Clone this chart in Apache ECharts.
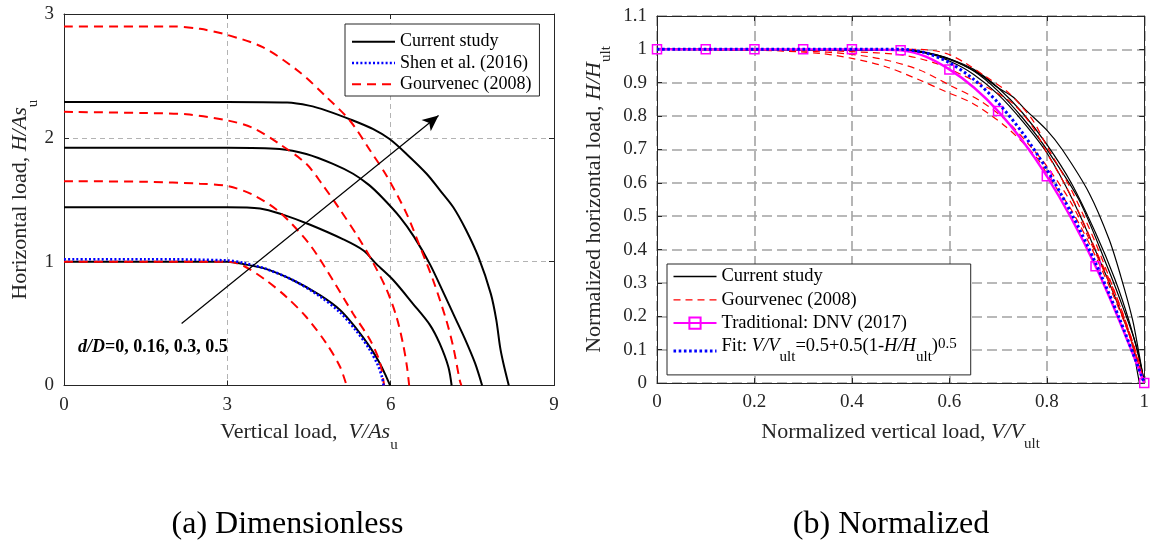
<!DOCTYPE html>
<html><head><meta charset="utf-8">
<script src="https://cdn.jsdelivr.net/npm/echarts@6/dist/echarts.min.js"></script>
<style>html,body{margin:0;padding:0;background:#fff}#c{width:1152px;height:542px}</style>
</head><body><div id="c"></div>
<script>
// ===== Panel (a) Dimensionless: points are [V/As_u, H/As_u] =====
const curA_d000 = [[0,1.0],[1.5,1.0],[3.0,1.0],[3.3,0.98],[3.72,0.94],[4.21,0.85],[4.70,0.73],[5.07,0.61],[5.37,0.46],[5.62,0.31],[5.80,0.18],[5.92,0.07],[5.99,0]];
const curA_d016 = [[0,1.44],[1.5,1.44],[3.0,1.44],[3.6,1.43],[4.02,1.38],[4.51,1.30],[5.13,1.18],[5.50,1.09],[5.74,0.98],[6.05,0.85],[6.41,0.66],[6.72,0.49],[6.90,0.34],[7.06,0.15],[7.12,0]];
const curA_d030 = [[0,1.92],[1.5,1.92],[3.0,1.92],[3.96,1.91],[4.45,1.87],[4.94,1.79],[5.31,1.71],[5.60,1.62],[5.84,1.52],[6.17,1.36],[6.43,1.20],[6.72,0.98],[6.98,0.74],[7.18,0.55],[7.36,0.38],[7.55,0.18],[7.68,0]];
const curA_d050 = [[0,2.29],[1.5,2.29],[3.0,2.29],[4.1,2.285],[4.5,2.26],[4.82,2.22],[5.31,2.14],[5.68,2.07],[5.98,1.99],[6.29,1.87],[6.66,1.71],[6.90,1.58],[7.15,1.44],[7.38,1.26],[7.61,1.04],[7.84,0.74],[7.94,0.53],[8.01,0.31],[8.07,0.18],[8.17,0]];
const shenA = [[0,1.02],[1.5,1.02],[3.0,1.01],[3.3,0.99],[3.72,0.94],[4.21,0.85],[4.70,0.72],[5.07,0.59],[5.37,0.44],[5.60,0.30],[5.76,0.17],[5.84,0.07],[5.87,0]];
const gouA_1 = [[0,1.0],[1.5,1.0],[3.0,1.0],[3.29,0.968],[3.72,0.847],[4.09,0.713],[4.45,0.553],[4.82,0.339],[5.07,0.151],[5.19,0]];
const gouA_2 = [[0,1.65],[1.5,1.645],[2.49,1.63],[3.01,1.61],[3.47,1.54],[3.96,1.40],[4.51,1.14],[4.94,0.85],[5.31,0.58],[5.62,0.37],[5.80,0.19],[5.88,0]];
const gouA_3 = [[0,2.21],[1.5,2.20],[2.25,2.19],[3.01,2.14],[3.47,2.08],[3.96,1.95],[4.45,1.79],[4.75,1.62],[5.07,1.42],[5.40,1.20],[5.68,0.99],[5.93,0.77],[6.11,0.55],[6.23,0.33],[6.30,0.15],[6.34,0]];
const gouA_4 = [[0,2.90],[1.0,2.90],[2.0,2.90],[2.5,2.88],[3.01,2.83],[3.66,2.73],[4.33,2.53],[4.82,2.33],[5.25,2.14],[5.62,1.90],[5.93,1.69],[6.29,1.39],[6.54,1.12],[6.78,0.85],[7.02,0.53],[7.15,0.31],[7.27,0.04],[7.30,0]];
const arrowA = [[2.16,0.50],[6.88,2.18]];
const annotA = 'd/D=0, 0.16, 0.3, 0.5';
const xTicksA = [0,3,6,9];
const yTicksA = [0,1,2,3];

// ===== Panel (b) Normalized: points are [V/V_ult, H/H_ult] =====
const curB_1 = [[0,1],[0.5,0.998],[0.55,0.99],[0.6,0.965],[0.65,0.925],[0.7,0.865],[0.75,0.785],[0.8,0.69],[0.853,0.549],[0.914,0.349],[0.95,0.22],[0.975,0.12],[0.985,0.04],[0.99,0]];
const curB_2 = [[0,1],[0.5,0.998],[0.55,0.99],[0.6,0.97],[0.65,0.935],[0.7,0.875],[0.75,0.795],[0.8,0.70],[0.866,0.549],[0.924,0.349],[0.958,0.22],[0.982,0.12],[0.995,0.04],[1.0,0]];
const curB_3 = [[0,1],[0.5,0.998],[0.55,0.992],[0.6,0.972],[0.65,0.94],[0.7,0.885],[0.75,0.81],[0.8,0.715],[0.85,0.60],[0.9,0.45],[0.94,0.31],[0.97,0.18],[0.99,0.07],[1.0,0]];
const curB_4 = [[0,1],[0.5,0.998],[0.55,0.99],[0.6,0.972],[0.66,0.928],[0.7,0.885],[0.73,0.858],[0.757,0.818],[0.8,0.758],[0.832,0.699],[0.887,0.569],[0.928,0.43],[0.952,0.319],[0.976,0.19],[0.989,0.09],[1.0,0]];
const gouB_1 = [[0,1],[0.3,1],[0.5,1],[0.54,1.0],[0.593,0.988],[0.634,0.958],[0.675,0.918],[0.723,0.868],[0.77,0.79],[0.8,0.71],[0.85,0.58],[0.9,0.42],[0.94,0.27],[0.97,0.15],[0.99,0.06],[1,0]];
const gouB_2 = [[0,1],[0.3,0.998],[0.4,0.993],[0.504,0.983],[0.573,0.958],[0.627,0.923],[0.675,0.888],[0.73,0.838],[0.77,0.77],[0.8,0.69],[0.85,0.56],[0.9,0.40],[0.94,0.27],[0.97,0.15],[1,0]];
const gouB_3 = [[0,1],[0.3,0.995],[0.4,0.985],[0.47,0.968],[0.539,0.938],[0.607,0.888],[0.661,0.848],[0.716,0.788],[0.76,0.72],[0.8,0.65],[0.85,0.54],[0.9,0.39],[0.94,0.26],[0.97,0.14],[1,0]];
const gouB_4 = [[0,1],[0.2,0.998],[0.334,0.988],[0.40,0.973],[0.47,0.948],[0.539,0.908],[0.593,0.873],[0.648,0.838],[0.716,0.768],[0.778,0.678],[0.805,0.615],[0.85,0.52],[0.9,0.38],[0.94,0.25],[0.97,0.14],[1,0]];
const dnvB_V = [0,0.1,0.2,0.3,0.4,0.5,0.6,0.7,0.8,0.9,1.0];
const dnvB_H = [1,1,1,1,1,0.997,0.94,0.815,0.62,0.35,0];
const fitB = [[0,1],[0.25,1],[0.5,1],[0.55,0.99],[0.6,0.96],[0.65,0.91],[0.7,0.84],[0.75,0.75],[0.8,0.64],[0.85,0.51],[0.9,0.36],[0.95,0.19],[1.0,0]];
const xTicksB = [0,0.2,0.4,0.6,0.8,1];
const yTicksB = [0,0.1,0.2,0.3,0.4,0.5,0.6,0.7,0.8,0.9,1,1.1];

const captions = ['(a) Dimensionless','(b) Normalized'];

// ===== styling =====
const FF = '"Liberation Serif","Times New Roman",Times,serif';
const AX = '#262626';
const richName = {
  n:{fontFamily:FF,fontSize:22,color:AX,verticalAlign:'top'},
  i:{fontFamily:FF,fontSize:22,fontStyle:'italic',color:AX,verticalAlign:'top'},
  s:{fontFamily:FF,fontSize:15,color:AX,verticalAlign:'bottom',padding:[16,0,0,0]}
};
const richLeg = {
  n:{fontFamily:FF,fontSize:18.5,color:'#000',verticalAlign:'top'},
  i:{fontFamily:FF,fontSize:18.5,fontStyle:'italic',color:'#000',verticalAlign:'top'},
  s:{fontFamily:FF,fontSize:15,color:'#000',verticalAlign:'bottom',padding:[13,0,0,0]},
  p:{fontFamily:FF,fontSize:15,color:'#000',verticalAlign:'top'}
};

function mainAxis(gi, pos, min, max, interval, split, extra) {
  return Object.assign({
    gridIndex:gi, type:'value', position:pos, min:min, max:max, interval:interval,
    axisLine:{show:true,onZero:false,lineStyle:{color:AX,width:1}},
    axisTick:{show:true,inside:true,length:5,lineStyle:{color:AX}},
    axisLabel:{show:true,color:AX,fontFamily:FF,fontSize:19,margin:10},
    splitLine:{show:true,lineStyle:split}
  }, extra||{});
}
function sideAxis(gi, pos, min, max, interval) {
  return {
    gridIndex:gi, type:'value', position:pos, min:min, max:max, interval:interval,
    axisLine:{show:true,onZero:false,lineStyle:{color:AX,width:1}},
    axisTick:{show:true,inside:true,length:5,lineStyle:{color:AX}},
    axisLabel:{show:false}, splitLine:{show:false}
  };
}
const splitA = {color:'#b3b3b3',width:1,type:[5,4]};
const splitB = {color:'#a3a3a3',width:1.6,type:[10,5]};

function ln(name, data, xi, yi, color, width, type, extra) {
  return Object.assign({
    name:name, type:'line', xAxisIndex:xi, yAxisIndex:yi, data:data,
    symbol:'none', smooth:0.3,
    lineStyle:{color:color,width:width,type:type},
    itemStyle:{color:color}, emphasis:{disabled:true}, silent:true, z:2
  }, extra||{});
}

const series = [];
[curA_d000,curA_d016,curA_d030,curA_d050].forEach((d,k)=>{
  const s = ln('Current study', d, 0, 0, '#000', 2, 'solid');
  if (k===0) {
    s.markLine = {
      silent:true, symbol:['none','arrow'], symbolSize:[11,16],
      label:{show:false}, emphasis:{disabled:true},
      lineStyle:{color:'#000',width:1.2,type:'solid'},
      data:[[{coord:arrowA[0]},{coord:arrowA[1]}]]
    };
  }
  series.push(s);
});
series.push(ln('Shen et al. (2016)', shenA, 0, 0, '#0000ff', 2.6, [2,2.2], {z:4}));
[gouA_1,gouA_2,gouA_3,gouA_4].forEach(d=>series.push(ln('Gourvenec (2008)', d, 0, 0, '#ff0000', 2, [9,6], {z:3})));

[curB_1,curB_2,curB_3,curB_4].forEach(d=>series.push(ln('Current study (b)', d, 2, 2, '#000', 1.2, 'solid')));
[gouB_1,gouB_2,gouB_3,gouB_4].forEach(d=>series.push(ln('Gourvenec (2008) (b)', d, 2, 2, '#ff0000', 1.2, [7,5], {z:3})));
series.push(ln('Traditional: DNV (2017)', dnvB_V.map((v,i)=>[v,dnvB_H[i]]), 2, 2, '#ff00ff', 2.4, 'solid', {
  symbol:'rect', symbolSize:9, showSymbol:true, smooth:0.35,
  itemStyle:{color:'none',borderColor:'#ff00ff',borderWidth:1.5}, z:4
}));
series.push(ln('Fit', fitB, 2, 2, '#0000ff', 3, [2.6,2.6], {z:5}));

const legendNamesB = {'Current study (b)':'Current study','Gourvenec (2008) (b)':'Gourvenec (2008)'};
const noSym = {opacity:0};

const option = {
  backgroundColor:'#fff',
  animation:false,
  grid:[
    {left:64, top:14, width:490, height:371.5},
    {left:657, top:16, width:488, height:367}
  ],
  xAxis:[
    mainAxis(0,'bottom',xTicksA[0],xTicksA[xTicksA.length-1],3,splitA,{
      name:'{n|Vertical load,  }{i|V/As}{s|u}', nameLocation:'middle', nameGap:36, nameTextStyle:{rich:richName}}),
    sideAxis(0,'top',0,9,3),
    mainAxis(1,'bottom',xTicksB[0],xTicksB[xTicksB.length-1],0.2,splitB,{
      name:'{n|Normalized vertical load, }{i|V/V}{s|ult}', nameLocation:'middle', nameGap:38, nameTextStyle:{rich:richName}}),
    sideAxis(1,'top',0,1,0.2)
  ],
  yAxis:[
    mainAxis(0,'left',yTicksA[0],yTicksA[yTicksA.length-1],1,splitA,{
      name:'{n|Horizontal load, }{i|H/As}{s|u}', nameLocation:'middle', nameGap:20, nameTextStyle:{rich:richName}}),
    sideAxis(0,'right',0,3,1),
    mainAxis(1,'left',yTicksB[0],yTicksB[yTicksB.length-1],0.1,splitB,{
      name:'{n|Normalized horizontal load, }{i|H/H}{s|ult}', nameLocation:'middle', nameGap:43, nameTextStyle:{rich:richName}}),
    sideAxis(1,'right',0,1.1,0.1)
  ],
  legend:[
    {
      data:[
        {name:'Current study',itemStyle:noSym,lineStyle:{width:2}},
        {name:'Shen et al. (2016)',itemStyle:noSym,lineStyle:{width:2.6}},
        {name:'Gourvenec (2008)',itemStyle:noSym,lineStyle:{width:2}}
      ],
      orient:'vertical', left:345, top:24, itemWidth:43, itemHeight:14, itemGap:3.3,
      padding:[8.7,8,2.7,5.7], borderColor:AX, borderWidth:1, backgroundColor:'#fff',
      selectedMode:false, textStyle:{fontFamily:FF,fontSize:18,color:'#000'}
    },
    {
      data:[
        {name:'Current study (b)',itemStyle:noSym,lineStyle:{width:1.3}},
        {name:'Gourvenec (2008) (b)',itemStyle:noSym,lineStyle:{width:1.3}},
        {name:'Traditional: DNV (2017)',lineStyle:{width:2}},
        {name:'Fit',itemStyle:noSym,lineStyle:{width:3}}
      ],
      orient:'vertical', left:667, top:264, itemWidth:43, itemHeight:14, itemGap:4.3,
      padding:[3,14,10,5], borderColor:AX, borderWidth:1, backgroundColor:'#fff',
      selectedMode:false, textStyle:{fontFamily:FF,fontSize:18.5,color:'#000',rich:richLeg},
      formatter:function(name){
        if (name==='Fit') return '{n|Fit: }{i|V/V}{s|ult}{n|=0.5+0.5(1-}{i|H/H}{s|ult}{n|)}{p|0.5}';
        return '{n|' + (legendNamesB[name]||name) + '}';
      }
    }
  ],
  graphic:[
    {type:'text', left:78, top:338, silent:true, z:10,
      style:{text:'{a|d/D}{b|' + annotA.slice(3) + '}',
        rich:{a:{fontFamily:FF,fontSize:18,fontWeight:'bold',fontStyle:'italic',fill:'#000'},
              b:{fontFamily:FF,fontSize:18,fontWeight:'bold',fill:'#000'}}}},
    {type:'text', silent:true,
      style:{x:287.5, y:525, text:captions[0], fontFamily:FF, fontSize:32, fill:'#000',
        textAlign:'center', textVerticalAlign:'middle', align:'center', verticalAlign:'middle'}},
    {type:'text', silent:true,
      style:{x:891, y:525, text:captions[1], fontFamily:FF, fontSize:32, fill:'#000',
        textAlign:'center', textVerticalAlign:'middle', align:'center', verticalAlign:'middle'}}
  ],
  series:series
};
const chart = echarts.init(document.getElementById('c'));
chart.setOption(option);
</script>
</body></html>
